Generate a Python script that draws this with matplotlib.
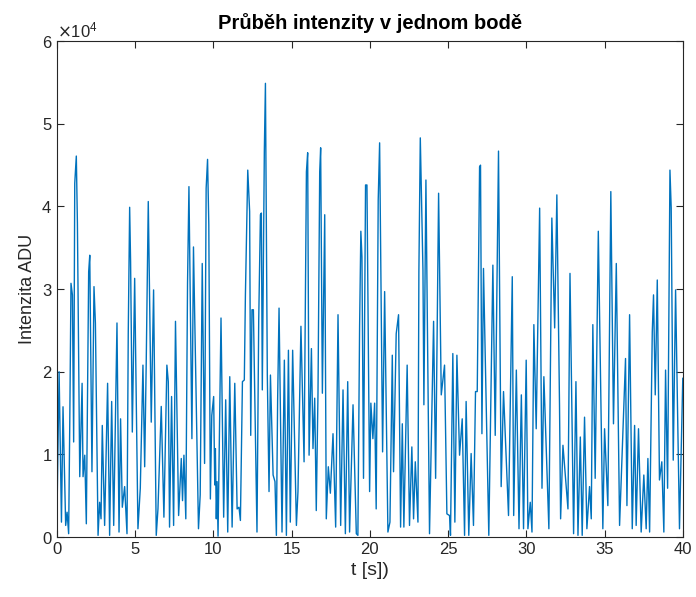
import matplotlib
matplotlib.use("Agg")
import matplotlib.pyplot as plt
from matplotlib.ticker import ScalarFormatter

plt.rcParams['font.family'] = ['Liberation Sans', 'DejaVu Sans']

# cas [s] a intenzita [ADU] (lokalni maxima/minima)
t = [0.0, 0.13, 0.28, 0.38, 0.55, 0.64, 0.74, 0.81, 0.89, 0.98, 1.06, 1.13, 1.23, 1.30, 1.45,
     1.60, 1.66, 1.77, 1.87, 2.02, 2.09, 2.23, 2.36, 2.45, 2.62, 2.72, 2.81, 2.89, 3.04, 3.23,
     3.36, 3.49, 3.62, 3.83, 3.96, 4.06, 4.17, 4.32, 4.47, 4.55, 4.64, 4.70, 4.81, 4.96, 5.17,
     5.32, 5.49, 5.60, 5.70, 5.83, 5.89, 6.02, 6.17, 6.34, 6.45, 6.66, 6.83, 7.02, 7.11, 7.19,
     7.32, 7.45, 7.57, 7.77, 7.94, 8.02, 8.11, 8.23, 8.34, 8.43, 8.62, 8.72, 9.04, 9.15, 9.28,
     9.43, 9.53, 9.62, 9.70, 9.80, 9.89, 10.01, 10.08, 10.12, 10.18, 10.23, 10.29, 10.48, 10.65,
     10.78, 10.91, 11.04, 11.19, 11.36, 11.51, 11.63, 11.72, 11.85, 11.97, 12.04, 12.19, 12.31,
     12.38, 12.46, 12.55, 12.78, 12.89, 13.00, 13.06, 13.12, 13.25, 13.32, 13.44, 13.55, 13.64,
     13.81, 13.93, 14.02, 14.10, 14.19, 14.38, 14.53, 14.66, 14.79, 14.91, 15.06, 15.30, 15.40,
     15.59, 15.79, 15.87, 15.94, 16.02, 16.11, 16.26, 16.36, 16.47, 16.57, 16.68, 16.79, 16.85,
     16.96, 17.11, 17.21, 17.34, 17.47, 17.64, 17.81, 17.96, 18.13, 18.28, 18.43, 18.58, 18.70,
     18.92, 19.13, 19.23, 19.34, 19.42, 19.49, 19.59, 19.72, 19.81, 19.98, 20.06, 20.19, 20.30,
     20.40, 20.53, 20.62, 20.68, 20.81, 20.94, 21.15, 21.28, 21.43, 21.51, 21.68, 21.83, 21.96,
     22.07, 22.17, 22.38, 22.53, 22.68, 22.79, 22.90, 23.07, 23.13, 23.22, 23.39, 23.45, 23.58,
     23.81, 24.07, 24.20, 24.39, 24.56, 24.77, 24.92, 25.09, 25.15, 25.30, 25.43, 25.56, 25.73,
     25.90, 26.05, 26.15, 26.32, 26.47, 26.62, 26.75, 26.86, 27.01, 27.07, 27.16, 27.26, 27.60,
     27.86, 28.01, 28.22, 28.39, 28.54, 28.86, 29.10, 29.19, 29.36, 29.53, 29.68, 29.82, 29.99,
     30.10, 30.25, 30.36, 30.48, 30.63, 30.85, 31.00, 31.12, 31.44, 31.63, 31.81, 31.95, 32.12,
     32.19, 32.34, 32.66, 32.79, 33.02, 33.17, 33.30, 33.45, 33.57, 33.72, 33.87, 34.04, 34.15,
     34.25, 34.40, 34.60, 34.89, 35.00, 35.21, 35.40, 35.57, 35.75, 35.96, 36.34, 36.43, 36.60,
     36.77, 36.92, 37.02, 37.17, 37.34, 37.51, 37.66, 37.77, 37.88, 38.05, 38.13, 38.24, 38.37,
     38.51, 38.66, 38.79, 38.90, 39.03, 39.18, 39.26, 39.39, 39.54, 39.79, 40.0]

intenzita = [3400, 20000, 1800, 15760, 1400, 3000, 400, 13500, 30700, 29300, 11500, 42800, 46100, 38000, 7300,
             18600, 7300, 9900, 1600, 32100, 34100, 7900, 30300, 25900, 200, 4200, 2200, 13500, 1400, 18600,
             200, 16400, 1400, 25900, 600, 14300, 3600, 6100, 400, 24600, 39900, 33300, 12700, 31300, 1000,
             5900, 20800, 8500, 21200, 40600, 32500, 13900, 29900, 200, 3400, 15800, 2400, 20800, 18800, 1200,
             17000, 1400, 26100, 2600, 9500, 4400, 9900, 2200, 30700, 42400, 11900, 35100, 1000, 5100, 33100,
             8900, 42200, 45700, 37800, 4600, 14700, 17000, 6300, 10700, 2200, 6700, 100, 26500, 2400,
             16600, 600, 19400, 1200, 18600, 3400, 3600, 2000, 18800, 19000, 29300, 44400, 39400,
             12300, 27500, 27500, 600, 26100, 39000, 39200, 17800, 46700, 54900, 19600, 5500, 19600,
             7500, 6700, 200, 16600, 27700, 600, 21400, 200, 22600, 1800, 22600, 1400, 5500,
             25500, 9100, 27300, 44200, 46500, 9900, 22800, 10700, 16800, 3200, 17400, 44200, 47100,
             17400, 39000, 2200, 8500, 5300, 12500, 1200, 26900, 1400, 17800, 400, 18800, 600,
             16000, 400, 200, 25500, 37000, 33900, 7100, 42600, 42600, 5500, 16200, 11900, 16200,
             3400, 40800, 47700, 36200, 10300, 29700, 600, 1800, 22000, 7900, 24600, 26900, 1200,
             13700, 1200, 20800, 1400, 10900, 2200, 9100, 1800, 32100, 48300, 32300, 16000, 43200,
             400, 26100, 7100, 41600, 17200, 20800, 2800, 2600, 200, 22200, 1800, 22000, 9900,
             14300, 200, 16400, 200, 10100, 1400, 17600, 17600, 44800, 45000, 12500, 32500, 200,
             32900, 12300, 46700, 6100, 17600, 2600, 31500, 2600, 20200, 1000, 17200, 1000, 21400,
             1000, 4200, 600, 25700, 13100, 39800, 5900, 19400, 1000, 38600, 25300, 41400, 16000,
             2200, 11100, 3400, 31900, 400, 18800, 200, 12100, 200, 14500, 1000, 6100, 2200,
             25700, 7100, 37000, 1000, 13100, 3800, 41800, 13700, 33100, 1400, 21600, 3800, 26900,
             1000, 13500, 1400, 13100, 600, 7500, 1000, 9500, 600, 24800, 29300, 17200, 31100,
             6900, 9100, 600, 20200, 5900, 44400, 39800, 9300, 29900, 1000, 19200]

x_ticks = [0, 5, 10, 15, 20, 25, 30, 35, 40]
y_ticks = [0, 10000, 20000, 30000, 40000, 50000, 60000]

fig = plt.figure(figsize=(6.96, 5.97), dpi=100)
ax = fig.add_axes([0.082, 0.1005, 0.899, 0.8305])
ax.plot(t, intenzita, color='#0072BD', linewidth=1.0)

ax.set_xlim(0, 40)
ax.set_ylim(0, 60000)
ax.set_xticks(x_ticks)
ax.set_yticks(y_ticks)

fmt = ScalarFormatter(useMathText=True)
fmt.set_powerlimits((0, 0))
ax.yaxis.set_major_formatter(fmt)
ax.yaxis.get_offset_text().set_fontsize(12)
ax.yaxis.get_offset_text().set_color('#4d4d4d')

ax.tick_params(direction='in', top=True, right=True, labelsize=12, colors='#262626', length=5, width=0.8)
for s in ax.spines.values():
    s.set_color('#262626')
    s.set_linewidth(0.8)

ax.set_title('Průběh intenzity v jednom bodě', fontsize=14.5, fontweight='bold', pad=9)
ax.set_xlabel('t [s])', fontsize=14, color='#262626')
ax.set_ylabel('Intenzita ADU', fontsize=13, color='#262626')

fig.savefig('out.png', dpi=100)
